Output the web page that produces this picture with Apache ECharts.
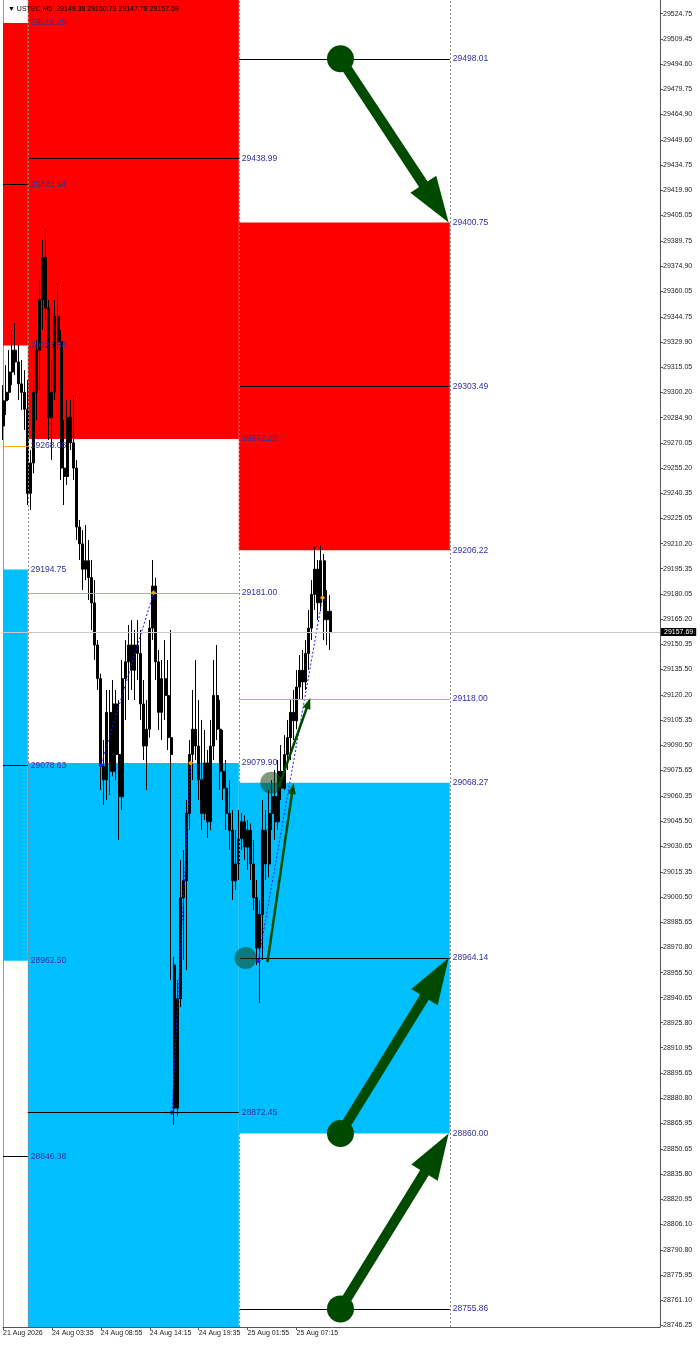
<!DOCTYPE html>
<html><head><meta charset="utf-8">
<script src="https://cdn.jsdelivr.net/npm/echarts@6/dist/echarts.min.js"></script>
<style>html,body{margin:0;padding:0;background:#fff}#c{width:700px;height:1346px}</style>
</head><body><div id="c"></div>
<script>
// ---------------- data ----------------
const symbolName = 'USTEC,M5';
const headerQuote = ['29149.38', '29160.73', '29147.78', '29157.69'];

const priceTicks = [29524.75, 29509.45, 29494.60, 29479.75, 29464.90, 29449.60, 29434.75, 29419.90, 29405.05,
  29389.75, 29374.90, 29360.05, 29344.75, 29329.90, 29315.05, 29300.20, 29284.90, 29270.05, 29255.20, 29240.35,
  29225.05, 29210.20, 29195.35, 29180.05, 29165.20, 29150.35, 29135.50, 29120.20, 29105.35, 29090.50, 29075.65,
  29060.35, 29045.50, 29030.65, 29015.35, 29000.50, 28985.65, 28970.80, 28955.50, 28940.65, 28925.80, 28910.95,
  28895.65, 28880.80, 28865.95, 28850.65, 28835.80, 28820.95, 28806.10, 28790.80, 28775.95, 28761.10, 28746.25];

const timeTickBars = [0, 64, 128, 192, 256, 320, 384];
const timeLabels = ['21 Aug 2026', '24 Aug 03:35', '24 Aug 08:55', '24 Aug 14:15', '24 Aug 19:35', '25 Aug 01:55', '25 Aug 07:15'];

// axis ranges (bars of M5, price)
const xMin = 0, xMax = 859.5;
const yMin = 28745.1, yMax = 29532.9;

// each candle below aggregates 4 M5 bars: [open, close, low, high]
const barsPerCandle = 4;
const candles = [
  [29280, 29295, 29271.7, 29304.3], [29295, 29300, 29286.5, 29316.2], [29300, 29312, 29295.4, 29325.1],
  [29312, 29325, 29304.3, 29337.0], [29325, 29318, 29310.3, 29341.1], [29318, 29305, 29295.4, 29328.1],
  [29305, 29300, 29289.5, 29319.2], [29300, 29290, 29277.6, 29313.2], [29290, 29240, 29233.1, 29307.3],
  [29240, 29258, 29230.1, 29265.7], [29258, 29300, 29252.0, 29307.3], [29300, 29325, 29283.6, 29331.0],
  [29325, 29355, 29301.4, 29366.7], [29355, 29380, 29337.0, 29390.4], [29380, 29350, 29343.0, 29397.5],
  [29350, 29285, 29271.7, 29354.8], [29285, 29300, 29259.8, 29319.2], [29300, 29345, 29295.4, 29354.8],
  [29345, 29330, 29325.1, 29364.9], [29330, 29255, 29247.9, 29337.0], [29255, 29250, 29233.1, 29283.6],
  [29250, 29285, 29245.0, 29295.4], [29285, 29270, 29265.7, 29295.4], [29270, 29255, 29247.9, 29298.4],
  [29255, 29220, 29212.3, 29259.8], [29220, 29210, 29200.4, 29224.2], [29210, 29195, 29182.6, 29218.2],
  [29195, 29200, 29188.5, 29221.2], [29200, 29190, 29176.7, 29212.3], [29190, 29175, 29158.9, 29200.4],
  [29175, 29150, 29141.1, 29188.5], [29150, 29130, 29123.3, 29152.9], [29130, 29078, 29063.9, 29133.0],
  [29078, 29070, 29055.0, 29093.6], [29070, 29110, 29058.0, 29123.3], [29110, 29075, 29060.9, 29123.3],
  [29075, 29115, 29072.0, 29129.2], [29115, 29085, 29069.8, 29123.3], [29085, 29060, 29034.2, 29117.3],
  [29060, 29130, 29052.0, 29141.1], [29130, 29140, 29105.5, 29152.9], [29140, 29150, 29117.3, 29161.9],
  [29150, 29135, 29123.3, 29164.8], [29135, 29150, 29117.3, 29158.9], [29150, 29145, 29129.2, 29164.8],
  [29145, 29115, 29105.5, 29158.9], [29115, 29090, 29081.7, 29129.2], [29090, 29100, 29063.9, 29117.3],
  [29100, 29160, 29095.0, 29164.8], [29160, 29185, 29152.9, 29200.4], [29185, 29140, 29129.2, 29190.0],
  [29140, 29110, 29099.5, 29147.0], [29110, 29130, 29093.6, 29141.1], [29130, 29120, 29105.5, 29152.9],
  [29120, 29095, 29087.6, 29141.1], [29095, 29085, 28951.1, 29158.9], [28960, 28875, 28865.0, 28965.0],
  [28875, 28940, 28870.0, 28951.1], [28940, 29000, 28935.0, 29022.3], [29000, 29010, 28963.0, 29028.3],
  [29010, 29050, 28957.0, 29058.0], [29050, 29085, 29040.2, 29093.6], [29085, 29100, 29069.8, 29123.3],
  [29100, 29090, 29081.7, 29141.1], [29090, 29070, 29058.0, 29117.3], [29070, 29050, 29040.2, 29105.5],
  [29050, 29080, 29046.1, 29099.5], [29080, 29045, 29035.4, 29087.6], [29045, 29090, 29040.0, 29105.5],
  [29090, 29120, 29081.7, 29141.1], [29120, 29100, 29093.6, 29150.0], [29100, 29075, 29063.9, 29117.3],
  [29075, 29065, 29058.0, 29099.5], [29065, 29050, 29040.2, 29081.7], [29050, 29040, 29028.3, 29069.8],
  [29040, 29010, 28998.6, 29052.0], [29010, 29020, 29004.5, 29040.2], [29020, 29035, 29010.5, 29052.0],
  [29035, 29045, 29028.3, 29050.2], [29045, 29030, 29022.3, 29049.0], [29030, 29040, 29016.4, 29046.1],
  [29040, 29020, 29010.5, 29044.0], [29020, 29000, 28992.6, 29034.2], [29000, 28970, 28960.0, 29010.5],
  [28970, 28990, 28937.4, 28998.6], [28990, 29040, 28963.0, 29058.0], [29040, 29020, 29010.5, 29052.0],
  [29020, 29050, 29012.0, 29063.9], [29050, 29060, 29040.2, 29069.8], [29060, 29045, 29034.2, 29075.7],
  [29045, 29075, 29040.2, 29081.7], [29075, 29065, 29058.0, 29090.6], [29065, 29085, 29063.9, 29096.5],
  [29085, 29095, 29075.7, 29105.5], [29095, 29110, 29081.7, 29117.3], [29110, 29105, 29093.6, 29123.3],
  [29105, 29125, 29100.0, 29135.1], [29125, 29135, 29117.3, 29144.0], [29135, 29128, 29117.3, 29147.0],
  [29128, 29145, 29123.3, 29152.9], [29145, 29160, 29135.1, 29170.8], [29160, 29180, 29152.9, 29188.5],
  [29180, 29195, 29170.8, 29208.2], [29195, 29175, 29164.8, 29200.4], [29175, 29200, 29170.0, 29209.3],
  [29200, 29165, 29152.9, 29204.0], [29165, 29170, 29150.0, 29182.6], [29170, 29157.69, 29147.0, 29179.6]
];

// day separators (bar positions)
const sessionBreaks = [32.5, 308.5, 584.5];

// supply / demand zones
const zoneTop     = [29519.25, 29605.76, 29400.75, 29194.75, 29079.90, 29068.27];
const zoneBottom  = [29327.84, 29272.22, 29206.22, 28962.50, 28665.00, 28860.00];
const zoneSession = [0, 1, 2, 0, 1, 2];
const zoneType    = ['supply', 'supply', 'supply', 'demand', 'demand', 'demand'];

// horizontal levels
const levelPrice   = [29423.54, 29268.08, 29078.63, 28846.38, 29438.99, 29181.00, 28872.45, 29498.01, 29303.49, 29118.00, 28964.14, 28755.86];
const levelSession = [0, 0, 0, 0, 1, 1, 1, 2, 2, 2, 2, 2];
const levelType    = ['mid', 'key', 'mid', 'mid', 'mid', 'key', 'mid', 'mid', 'mid', 'key', 'mid', 'mid'];

// swing legs (bar, price) and whether each end is a low or a high
const swingLegs = [
  [[128, 29078.63], [197, 29181.00]],
  [[221, 28872.45], [245.5, 29079.90]],
  [[334, 28962.50], [418, 29178.00]]
];
const swingLegKinds = [['low', 'high'], ['low', 'high'], ['low', 'high']];

// projected arrows [fromBar, fromPrice, toBar, toPrice]
const bigArrows = [[441.5, 29498.01, 583, 29400.75], [441.5, 28860.00, 583, 28964.14], [441.5, 28755.86, 583, 28860.00]];
const smallArrows = [[346, 28961.8, 380, 29068.0], [360.5, 29065.6, 402, 29118.5]];
const fadedDots = [[317.4, 28964.14], [351, 29068.27]];

const lastPrice = candles[candles.length - 1][1];

// ---------------- chart ----------------
const FONT = 'Liberation Sans, Arial, sans-serif';
const LABEL_BLUE = '#30309f';
const DARK_GREEN = '#004a00';

function sessionRange(s) { return [s === 0 ? xMin : sessionBreaks[s - 1], sessionBreaks[s]]; }

const zoneAreas = zoneTop.map((t, i) => {
  const [x1, x2] = sessionRange(zoneSession[i]);
  return [
    { coord: [x1, Math.min(t, yMax)], itemStyle: { color: zoneType[i] === 'supply' ? '#ff0000' : '#00bfff', opacity: 1 } },
    { coord: [x2, Math.max(zoneBottom[i], yMin)] }
  ];
});

const levelLines = levelPrice.map((p, i) => {
  const [x1, x2] = sessionRange(levelSession[i]);
  return [
    { coord: [x1, p], name: p.toFixed(2), lineStyle: { color: levelType[i] === 'key' ? '#ffa500' : '#000000', width: 1, type: 'solid' } },
    { coord: [x2, p] }
  ];
});
const edgeLabels = [];
zoneTop.forEach((t, i) => {
  const [x1, x2] = sessionRange(zoneSession[i]);
  [t, zoneBottom[i]].forEach(v => {
    if (v <= yMax && v >= yMin) {
      edgeLabels.push([{ coord: [x1, v], name: v.toFixed(2), lineStyle: { color: 'rgba(0,0,0,0)', width: 1 } }, { coord: [x2, v] }]);
    }
  });
});
const separatorLines = sessionBreaks.map(b => ({
  xAxis: b, lineStyle: { color: '#8a8a8a', type: [2, 2], width: 1 }, label: { show: false }
}));

function arrowRenderer(width, headLen, headW) {
  return function (params, api) {
    const p0 = api.coord([api.value(0), api.value(1)]);
    const p1 = api.coord([api.value(2), api.value(3)]);
    const dx = p1[0] - p0[0], dy = p1[1] - p0[1];
    const len = Math.hypot(dx, dy);
    const ux = dx / len, uy = dy / len;
    const bx = p1[0] - ux * headLen, by = p1[1] - uy * headLen;
    const nx = -uy, ny = ux;
    return {
      type: 'group',
      children: [
        { type: 'line', shape: { x1: p0[0], y1: p0[1], x2: bx + ux * 2, y2: by + uy * 2 }, style: { stroke: DARK_GREEN, lineWidth: width } },
        { type: 'polygon', shape: { points: [[p1[0], p1[1]], [bx + nx * headW / 2, by + ny * headW / 2], [bx - nx * headW / 2, by - ny * headW / 2]] }, style: { fill: DARK_GREEN } }
      ]
    };
  };
}

const swingSeries = swingLegs.map((leg, k) => ({
  type: 'line', z: 4, symbol: 'diamond', symbolSize: 5, showSymbol: true, silent: true,
  data: leg.map((p, i) => ({ value: p, itemStyle: { color: swingLegKinds[k][i] === 'low' ? '#1a1aff' : '#ffa500' } })),
  lineStyle: { type: [2, 2], color: '#1a1aff', width: 1 }
}));

const chart = echarts.init(document.getElementById('c'), null, { renderer: 'canvas' });
chart.setOption({
  animation: false,
  backgroundColor: '#ffffff',
  title: {
    text: '▼ ' + symbolName + '  ' + headerQuote.join(' '),
    left: 3, top: 1,
    textStyle: { fontSize: 7, fontWeight: 'normal', color: '#000', fontFamily: FONT }
  },
  grid: { left: 2, right: 40, top: 0, bottom: 19 },
  xAxis: {
    type: 'value', min: xMin, max: xMax,
    axisLine: { show: true, onZero: false, lineStyle: { color: '#555', width: 1 } },
    axisTick: { show: true, customValues: timeTickBars, length: 3, lineStyle: { color: '#555' } },
    axisLabel: {
      customValues: timeTickBars, align: 'left', margin: 3, fontSize: 7, color: '#222', fontFamily: FONT,
      formatter: v => timeLabels[timeTickBars.indexOf(v)] || ''
    },
    splitLine: { show: false }
  },
  yAxis: [{
    type: 'value', position: 'right', min: yMin, max: yMax,
    axisLine: { show: true, onZero: false, lineStyle: { color: '#555', width: 1 } },
    axisTick: { show: true, customValues: priceTicks, length: 3, lineStyle: { color: '#555' } },
    axisLabel: { customValues: priceTicks, formatter: v => v.toFixed(2), fontSize: 7, color: '#222', margin: 3, fontFamily: FONT },
    splitLine: { show: false }
  }, {
    type: 'value', position: 'left', min: yMin, max: yMax,
    axisLine: { show: true, onZero: false, lineStyle: { color: '#9a9a9a', width: 1 } },
    axisTick: { show: false }, axisLabel: { show: false }, splitLine: { show: false }
  }],
  series: [
    {
      type: 'line', data: [], z: 1, silent: true,
      markArea: { silent: true, data: zoneAreas },
      markLine: {
        silent: true, symbol: 'none',
        data: [{
          yAxis: lastPrice, lineStyle: { color: '#c8c8c8', type: 'solid', width: 1 },
          label: { show: true, position: 'end', formatter: lastPrice.toFixed(2), backgroundColor: '#000', color: '#fff',
                   padding: [1, 3, 0, 3], distance: 1, fontSize: 7, fontFamily: FONT }
        }]
      }
    },
    {
      type: 'line', data: [], z: 2, silent: true,
      markLine: {
        silent: true, symbol: 'none', precision: 2,
        label: { show: true, position: 'end', formatter: '{b}', distance: 3, color: LABEL_BLUE, fontSize: 8.5, fontFamily: FONT },
        data: levelLines.concat(edgeLabels).concat(separatorLines)
      }
    },
    {
      type: 'candlestick', z: 3, barWidth: 2.5,
      encode: { x: 0, y: [1, 2, 3, 4] },
      data: candles.map((c, i) => [i * barsPerCandle].concat(c)),
      itemStyle: { color: '#000', color0: '#000', borderColor: '#000', borderColor0: '#000', borderWidth: 1 }
    }
  ].concat(swingSeries).concat([
    {
      type: 'scatter', z: 5, data: fadedDots, symbolSize: 22, silent: true,
      itemStyle: { color: 'rgba(20,70,20,0.55)', opacity: 1 }
    },
    {
      type: 'custom', z: 6, data: smallArrows, encode: { x: [0, 2], y: [1, 3] }, silent: true,
      renderItem: arrowRenderer(2.5, 11, 8)
    },
    {
      type: 'custom', z: 6, data: bigArrows, encode: { x: [0, 2], y: [1, 3] }, silent: true,
      renderItem: arrowRenderer(10, 46, 31)
    },
    {
      type: 'scatter', z: 7, data: bigArrows.map(a => [a[0], a[1]]), symbolSize: 27, silent: true,
      itemStyle: { color: DARK_GREEN, opacity: 1 }
    }
  ])
});
</script>
</body></html>
